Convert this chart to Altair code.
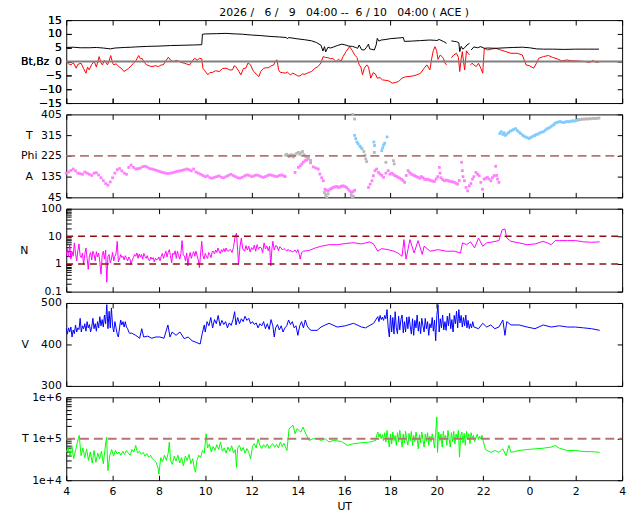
import altair as alt
import pandas as pd

FONT = "DejaVu Sans"
FS = 11
W, H = 563, 84
NB = "\u00a0"

# ---------------- data (hours since 00 UT on 6/9; 24+ = 6/10) ----------------
bt_h = [4.0, 4.3, 4.6, 5.0, 5.3, 5.6, 5.9, 6.1, 6.5, 6.8, 7.0, 7.5, 8.0, 8.5, 9.0, 9.5, 9.85,
        9.88, 10.0, 10.5, 10.9, 11.3, 11.6, 12.0, 12.4, 12.8, 13.2, 13.5, 13.55, 13.6, 14.0,
        14.3, 14.6, 14.8, 15.0, 15.08, 15.15, 15.2, 15.3, 15.4, 15.55, 15.7, 15.9, 16.05, 16.2,
        16.35, 16.5, 16.58, 16.65, 16.75, 16.87, 16.95, 17.05, 17.1, 17.3, 17.38, 17.43, 17.5,
        17.6, 17.8, 18.0, 18.3, 18.55, 18.6, 18.9, 19.3, 19.7, 19.9, 20.0, 20.1, 20.3, 20.42,
        20.5,
        20.63, 20.75, 20.85, 20.95, 20.99, 21.05, 21.12, 21.2, 21.3, 21.41,
        21.44,
        21.48, 21.6, 21.75, 21.9, 22.05, 22.2, 22.55, 23.0, 23.3, 23.7, 24.0, 24.3, 24.6, 25.0,
        25.5, 26.0, 26.5, 27.0]
bt_v = [5.1, 5.2, 5.0, 5.0, 5.1, 4.9, 4.6, 4.9, 5.1, 5.2, 5.3, 5.5, 5.6, 5.8, 5.9, 6.0, 6.1,
        9.9, 10.0, 10.1, 10.2, 10.0, 9.9, 9.6, 9.4, 9.1, 8.9, 8.7, 8.2, 8.7, 8.2,
        7.9, 7.5, 6.9, 5.9, 3.8, 5.4, 3.5, 5.2, 4.9, 5.3, 5.8, 6.3, 6.0, 5.6,
        5.5, 5.1, 4.8, 6.0, 4.3, 4.2, 5.0, 6.3, 4.6, 4.2, 6.0, 8.4, 7.4,
        7.8, 8.0, 8.3, 8.5, 8.7, 7.3, 7.4, 7.6, 7.8, 7.7, 7.6, 8.0, 7.2, 6.6,
        None,
        7.5, 7.3, 7.2, 6.8, 3.6, 5.5, 4.5, 5.0, 6.0, 6.6,
        None,
        4.2, 5.3, 5.0, 5.4, 4.8, 4.9, 4.8, 5.0, 5.1, 5.2, 5.0, 4.6, 4.5, 4.5,
        4.4, 4.5, 4.5, 4.5]

bz_h = [4.0, 4.1, 4.21, 4.3, 4.43, 4.5, 4.64, 4.75, 4.85, 4.92, 4.99, 5.1, 5.21, 5.3, 5.42,
        5.5, 5.56, 5.65, 5.78, 5.85, 5.92, 6.0, 6.06, 6.15, 6.27, 6.4, 6.49, 6.6, 6.7, 6.8,
        6.91, 7.0, 7.13, 7.2, 7.27, 7.38, 7.48, 7.6, 7.7, 7.85, 7.98, 8.1, 8.19, 8.3, 8.41,
        8.5, 8.62, 8.75, 8.9, 9.0, 9.12, 9.2, 9.33, 9.45, 9.54, 9.65, 9.76, 9.85, 9.9, 10.0,
        10.11, 10.2, 10.32, 10.45, 10.61, 10.75, 10.9, 11.05, 11.18, 11.25, 11.32, 11.45,
        11.54, 11.65, 11.75, 11.85, 11.96, 12.05, 12.1, 12.2, 12.32, 12.4, 12.53, 12.65,
        12.74, 12.85, 12.96, 13.03, 13.1, 13.17, 13.24, 13.35, 13.45, 13.55, 13.67, 13.78,
        13.88, 14.0, 14.09, 14.2, 14.31, 14.45, 14.59, 14.73, 14.87, 15.0, 15.09, 15.2, 15.3,
        15.42, 15.51, 15.6, 15.65, 15.75, 15.87, 15.95, 16.08, 16.23, 16.35, 16.45, 16.55,
        16.65, 16.72, 16.79, 16.87, 16.98, 17.05, 17.15, 17.25, 17.35, 17.43, 17.55, 17.65,
        17.8, 17.93, 18.07, 18.2, 18.35, 18.5, 18.65, 18.8, 18.97, 19.14, 19.3, 19.45, 19.57,
        19.7, 19.78, 19.85, 19.92, 19.99, 20.05, 20.15, 20.28, 20.35, 20.42,
        20.5,
        20.63, 20.73, 20.85, 20.93, 20.99, 21.05, 21.1, 21.2, 21.28, 21.35, 21.41,
        21.43,
        21.45, 21.52, 21.6, 21.7, 21.8, 21.9, 21.98, 22.05, 22.2, 22.35, 22.55, 22.75, 22.98,
        23.2, 23.47, 23.69, 23.85, 24.0, 24.18, 24.3, 24.4, 24.6, 24.82, 25.0, 25.2, 25.4,
        25.6, 25.8, 26.1, 26.4, 26.6, 26.75, 26.85, 27.0]
bz_v = [0.0, -0.8, -1.2, -0.3, -2.4, -1.0, -0.6, -2.5, -4.2, -2.0, -3.0, -1.0, 0.0, -2.0, 1.8,
        -0.5, -1.2, 0.5, -1.2, 0.3, 2.2, -0.5, -1.2, -0.8, -1.8, -2.6, -3.6, -3.0, -2.4, -1.5,
        -0.6, 0.2, 2.2, 1.0, 1.2, -0.5, -1.2, -1.6, -1.8, -1.5, -1.8, -1.2, -1.2, 0.3, 1.6,
        0.5, 0.0, 0.4, 0.0, -0.4, -0.6, -0.9, -1.2, 0.3, 1.2, 0.5, 1.2, 1.0, -2.4, -3.5,
        -4.8, -4.0, -3.9, -3.3, -3.6, -2.5, -2.4, -3.0, -3.0, -1.5, -1.8, -3.5,
        -4.8, -2.5, -2.4, -0.5, -1.2, -3.0, -3.6, -4.5, -5.4, -3.5, -2.4, -2.2,
        -2.2, -1.5, -1.2, 0.2, 0.6, -3.0, -3.9, -4.0, -4.2, -3.8, -4.8, -4.2,
        -4.6, -5.2, -5.2, -4.5, -4.6, -4.0, -3.6, -2.5, -1.8, -0.5, 1.8, 1.5, 1.4,
        1.0, 1.2, 0.3, 0.0, 0.8, 0.2, 1.8, 3.6, 5.4, 4.0, 2.4, 1.5,
        -1.2, -2.0, -4.8, -2.4, -1.2, -2.0, -6.0, -4.0, -4.5, -6.0, -5.8, -6.6,
        -6.8, -7.0, -7.8, -7.6, -7.2, -6.0, -5.5, -5.4, -5.2, -4.8, -4.2, -2.4, -1.2,
        -3.0, 1.2, 4.0, 5.4, 4.0, 0.8, 2.4, 1.2, -0.5, -1.2,
        None,
        1.4, 2.4, 3.0, 1.5, -3.6, 1.0, 3.6, -3.0, 3.9, 3.0, 2.4,
        None,
        -1.2, -0.6, -1.2, -1.8, -0.6, -2.4, -4.2, 4.8, 4.2, 4.5, 4.8, 4.2, 3.6,
        3.0, 3.0, 2.4, -1.2, -1.5, -2.4, -0.6, 1.2, 1.8, 2.2, 1.5, 1.0, 0.2,
        0.6, 0.3, 0.2, 0.0, -0.3, 0.4, -0.2, -0.2]

phi_a_h = [4.0, 4.1, 4.2, 4.3, 4.4, 4.5, 4.6, 4.7, 4.8, 4.9, 5.0, 5.1, 5.2, 5.3, 5.4, 5.5,
           5.6, 5.7, 5.8, 5.9, 6.0, 6.1, 6.2, 6.3, 6.4, 6.5, 6.6, 6.7, 6.8, 6.9, 7.0, 7.1,
           7.2, 7.3, 7.4, 7.5, 7.6, 7.7, 7.8, 7.9, 8.0, 8.1, 8.2, 8.3, 8.4, 8.5, 8.6, 8.7,
           8.8, 8.9, 9.0, 9.1, 9.2, 9.3, 9.4, 9.5, 9.6, 9.7, 9.8, 9.9, 10.0, 10.1, 10.2,
           10.3, 10.4, 10.5, 10.6, 10.7, 10.8, 10.9, 11.0, 11.1, 11.2, 11.3, 11.4, 11.5,
           11.6, 11.7, 11.8, 11.9, 12.0, 12.1, 12.2, 12.3, 12.4, 12.5, 12.6, 12.7, 12.8,
           12.9, 13.0, 13.1, 13.2, 13.3, 13.4, 13.45,
           13.88, 14.02, 14.1, 14.17, 14.24, 14.31, 14.38, 14.45, 14.55, 14.67, 14.78, 14.88,
           14.95, 15.03, 15.1, 15.17, 15.24, 15.31, 15.38, 15.45, 15.52, 15.6, 15.67, 15.74,
           15.81, 15.88, 15.95, 16.02, 16.1, 16.17, 16.24, 16.31, 16.38, 16.45,
           17.05, 17.12, 17.2, 17.26, 17.33, 17.4, 17.48, 17.55, 17.62, 17.7, 17.8, 17.9,
           17.98, 18.05, 18.12, 18.19, 18.26, 18.33, 18.4, 18.47, 18.54, 18.61, 18.68, 18.76,
           18.83, 18.9, 18.97, 19.04, 19.12, 19.19, 19.26, 19.33, 19.4, 19.47, 19.54, 19.61,
           19.68, 19.76, 19.83, 19.9, 19.97, 20.04, 20.11, 20.14, 20.18, 20.25, 20.33, 20.4,
           20.47, 20.54, 20.61, 20.68, 20.76, 20.83, 20.9, 20.97, 21.07, 21.1, 21.13, 21.19,
           21.26, 21.33, 21.4, 21.47, 21.54, 21.6, 21.69, 21.76, 21.83, 21.9, 21.97, 22.04,
           22.11, 22.18, 22.25, 22.33, 22.4, 22.47, 22.54, 22.58, 22.62, 22.68]
phi_a_v = [150, 155, 162, 168, 160, 150, 148, 145, 155, 150, 145, 140, 150, 152, 142, 130,
           118, 105, 98, 112, 130, 150, 165, 170, 160, 150, 145, 175, 185, 175, 168, 170,
           172, 178, 180, 176, 170, 168, 165, 162, 158, 155, 152, 150, 148, 150, 152, 155,
           158, 160, 162, 165, 168, 165, 160, 168, 155, 150, 145, 140, 135, 138, 130,
           128, 132, 135, 138, 132, 130, 135, 140, 145, 140, 135, 130, 128,
           132, 138, 142, 140, 135, 138, 142, 140, 135, 132, 135, 140, 143,
           140, 137, 135, 140, 142, 138, 135,
           153, 175, 182, 190, 198, 204, 208, 212, 195, 177, 172, 168,
           146, 130, 117, 80, 76, 73, 80, 83, 88, 90, 92, 88,
           90, 93, 95, 92, 88, 80, 72, 66, 70, 76,
           88, 102, 117, 139, 161, 168, 153, 146, 140, 132, 150, 161,
           146, 150, 145, 139, 136, 132, 128, 124, 118, 110, 140, 161,
           152, 146, 142, 139, 135, 132, 128, 135, 130, 124, 122, 124,
           120, 117, 115, 114, 125, 135, 175, 150, 130, 122, 117, 120,
           118, 115, 114, 112, 110, 106, 102, 118, 197, 161, 135, 117,
           88, 73, 95, 105, 124, 135, 153, 145, 139, 110, 80, 124,
           128, 132, 125, 117, 130, 139, 180, 140, 124, 110]

phi_t_h = [16.45, 16.5, 16.55, 16.6, 16.67, 16.72, 16.77, 17.28, 17.31, 17.62, 17.66, 17.7,
           17.75, 17.85, 22.72, 22.78, 22.85, 22.9, 22.96, 23.02, 23.1, 23.17, 23.25, 23.32,
           23.4, 23.47, 23.55, 23.62, 23.7, 23.77, 23.85, 23.92, 24.0, 24.07, 24.15, 24.22,
           24.3, 24.38, 24.45, 24.53, 24.6, 24.68, 24.75, 24.82, 24.9, 24.97, 25.05, 25.1,
           25.18, 25.25, 25.33, 25.4, 25.48, 25.55, 25.63, 25.7, 25.78, 25.85, 25.93, 26.0,
           26.08]
phi_t_v = [314, 300, 285, 278, 268, 262, 256, 285, 270, 248, 260, 272,
           280, 307, 322, 330, 318, 325, 314, 320, 326, 332, 336, 340,
           343, 335, 328, 322, 315, 310, 306, 303, 301, 306, 310, 313,
           318, 320, 325, 328, 330, 336, 342, 345, 350, 355, 360, 366,
           370, 372, 374, 371, 370, 372, 374, 373, 375, 377, 376, 378,
           380]

phi_g_h = [13.47, 13.52, 13.58, 13.63, 13.7, 13.75, 13.8, 13.85, 13.95, 14.02, 14.08, 14.14,
           14.2, 14.27, 14.35, 14.45, 14.55, 15.15, 15.2, 15.25, 15.3, 16.3, 16.35, 16.4,
           16.37, 16.45, 16.85, 16.9, 16.93, 16.97, 17.3, 17.8, 18.13, 18.16, 26.12, 26.2,
           26.28, 26.36, 26.44, 26.52, 26.6, 26.68, 26.76, 26.84, 26.92, 27.0]
phi_g_v = [228, 232, 226, 222, 230, 228, 220, 229, 236, 240, 232, 238,
           244, 230, 222, 215, 205, 66, 55, 45, 60, 54, 45, 50,
           405, 385, 244, 228, 212, 200, 240, 197, 204, 190, 383, 382,
           385, 384, 386, 385, 387, 386, 388, 387, 388, 389]

# proton density, in pieces
na_h = [4.0, 4.05, 4.1, 4.15, 4.2, 4.25, 4.3, 4.35, 4.4, 4.45,
        4.5, 4.55, 4.6, 4.65, 4.7, 4.75, 4.8, 4.85, 4.9, 4.95,
        5.0, 5.05, 5.1, 5.15, 5.2, 5.25, 5.3, 5.35, 5.4, 5.45,
        5.5, 5.55, 5.6, 5.65, 5.7, 5.75, 5.8, 5.85, 5.9, 5.95,
        6.0, 6.05, 6.1, 6.15, 6.2, 6.25, 6.3, 6.35, 6.4, 6.45,
        6.5, 6.55, 6.6, 6.65, 6.7, 6.75, 6.8, 6.85, 6.9, 6.95,
        7.0, 7.05, 7.1, 7.15, 7.2, 7.25, 7.3, 7.35, 7.4, 7.45,
        7.5, 7.55, 7.6, 7.65, 7.7, 7.75, 7.8, 7.85, 7.9, 7.95,
        8.0, 8.05, 8.1, 8.15, 8.2, 8.25, 8.3, 8.35, 8.4, 8.45,
        8.5, 8.55, 8.6, 8.65, 8.7, 8.75, 8.8, 8.85, 8.9, 8.95,
        9.0, 9.05, 9.1, 9.15, 9.2, 9.25, 9.3, 9.35, 9.4, 9.45,
        9.5, 9.55, 9.6, 9.65, 9.7, 9.75, 9.8, 9.85, 9.9, 9.95,
        10.0, 10.05, 10.1, 10.15, 10.2, 10.25, 10.3, 10.35, 10.4, 10.45,
        10.5, 10.55, 10.6, 10.65, 10.7, 10.75, 10.8, 10.85, 10.9, 10.95,
        11.0]
na_v = [2.2, 3.5, 1.8, 5.0, 1.5, 2.8, 1.9, 5.8, 2.4, 1.3,
        3.0, 5.3, 2.0, 1.7, 2.5, 0.97, 2.2, 3.8, 1.6, 0.64,
        2.0, 2.6, 1.4, 2.9, 2.2, 1.3, 2.8, 1.8, 2.5, 1.2,
        0.43, 2.0, 2.9, 1.5, 3.2, 0.22, 1.9, 2.2, 1.1, 1.5,
        2.6, 1.3, 1.9, 2.4, 6.6, 1.2, 1.5, 2.2, 1.7, 1.9,
        1.4, 2.0, 1.6, 1.3, 1.8, 1.5, 0.97, 1.4, 1.7, 2.2,
        1.9, 2.5, 1.6, 2.3, 1.8, 2.2, 1.5, 2.4, 1.9, 1.6,
        2.0, 1.4, 1.3, 1.8, 1.5, 1.7, 1.2, 1.6, 1.4, 1.5,
        1.8, 1.3, 1.9, 2.4, 1.6, 2.2, 2.9, 1.8, 2.6, 3.3,
        2.0, 1.1, 2.5, 2.2, 3.0, 1.6, 2.9, 2.0, 1.5, 2.4,
        7.0, 2.2, 1.9, 1.3, 2.5, 0.85, 1.8, 2.6, 1.6, 2.2,
        2.8, 1.9, 2.9, 2.0, 1.4, 0.74, 2.3, 6.6, 2.0, 1.5,
        2.4, 1.9, 1.6, 2.6, 2.2, 1.7, 2.8, 2.9, 2.3, 3.2,
        2.6, 3.8, 2.9, 2.4, 3.3, 2.7, 3.6, 2.8, 3.8, 3.0,
        2.9]
nb_h = [11.08, 11.16, 11.22, 11.28, 11.35, 11.4, 11.44, 11.5, 11.56, 11.62,
        11.7, 11.76, 11.82, 11.88, 11.94, 12.0, 12.06, 12.12, 12.18, 12.24,
        12.3, 12.36, 12.42, 12.48, 12.54, 12.6, 12.66, 12.72, 12.78, 12.83,
        12.88, 12.92, 12.98, 13.04, 13.1, 13.16, 13.22, 13.28, 13.34, 13.4,
        13.46, 13.52, 13.58, 13.64, 13.7, 13.76, 13.82, 13.88, 13.94, 14.0,
        14.06, 14.1, 14.16, 14.23]
nb_v = [3.4, 2.6, 4.0, 8.7, 13.2, 3.0, 0.97, 4.2, 8.7, 3.5,
        2.9, 4.6, 3.2, 4.4, 2.7, 3.9, 3.3, 4.8, 2.9, 5.0,
        3.4, 4.1, 3.8, 2.6, 5.8, 3.5, 4.5, 3.0, 4.4, 0.85,
        3.6, 6.6, 3.2, 4.6, 4.4, 3.0, 4.2, 3.8, 3.2, 3.6,
        3.3, 2.9, 3.4, 2.9, 3.1, 2.7, 2.9, 3.2, 2.6, 3.3,
        2.2, 1.5, 2.6, 2.9]
nc_h = [14.49, 14.75, 15.01, 15.36, 15.71, 16.06, 16.4, 16.75, 17.1, 17.27,
        17.45, 17.62, 17.89, 18.15, 18.32, 18.5, 18.58, 18.67, 18.84, 19.02,
        19.19, 19.37, 19.45, 19.71, 20.06, 20.41, 20.76, 21.02, 21.11, 21.28,
        21.46, 21.63, 21.8, 21.98, 22.15, 22.33, 22.68, 22.82, 22.94, 23.02,
        23.2, 23.55, 23.9, 24.24, 24.59, 24.77, 24.94, 25.11, 25.29, 25.64,
        25.99, 26.34, 26.68, 27.03]
nc_v = [3.1, 3.8, 4.4, 5.0, 5.0, 5.5, 5.9, 5.3, 6.3, 5.3,
        2.9, 3.6, 3.3, 2.9, 2.5, 1.9, 7.6, 1.5, 7.6, 2.5,
        7.0, 2.2, 4.4, 2.9, 3.3, 2.9, 2.9, 2.5, 5.8, 5.0,
        6.3, 3.8, 8.7, 4.4, 5.8, 6.1, 7.0, 17.3, 18.5, 8.7,
        6.6, 5.8, 5.0, 5.3, 6.6, 5.8, 5.0, 7.0, 7.0, 7.0,
        7.0, 6.3, 6.1, 6.3]

# solar wind speed, in pieces
va_h = [4.0, 4.05, 4.1, 4.15, 4.2, 4.25, 4.3, 4.35, 4.4, 4.45,
        4.5, 4.55, 4.6, 4.65, 4.7, 4.75, 4.8, 4.85, 4.9, 4.95,
        5.0, 5.05, 5.1, 5.15, 5.2, 5.25, 5.3, 5.35, 5.4, 5.45,
        5.5, 5.55, 5.6, 5.65, 5.7, 5.75, 5.8, 5.85, 5.9, 5.95,
        6.0, 6.05, 6.1, 6.15, 6.2, 6.25, 6.3, 6.35, 6.4, 6.45,
        6.5, 6.55, 6.6, 6.65, 6.7, 6.75, 6.8]
va_v = [438, 425, 440, 430, 442, 418, 435, 426, 447, 430,
        440, 436, 463, 430, 445, 438, 450, 432, 455, 440,
        448, 430, 442, 463, 438, 450, 432, 455, 440, 467,
        445, 460, 442, 471, 450, 496, 438, 480, 440, 488,
        445, 430, 455, 440, 425, 418, 440, 459, 447, 455,
        442, 455, 442, 438, 430, 426, 428]
vb_h = [7.0, 7.17, 7.26, 7.34, 7.52, 7.69, 7.87, 8.04, 8.22, 8.39,
        8.48, 8.57, 8.74, 8.91, 9.09, 9.26, 9.43, 9.61, 9.78, 9.87,
        9.96]
vb_v = [422, 415, 438, 418, 420, 415, 418, 418, 415, 447,
        418, 430, 422, 430, 414, 418, 409, 405, 401, 426,
        447]
vc_h = [10.0, 10.08, 10.16, 10.24, 10.32, 10.4, 10.48, 10.56, 10.64, 10.72,
        10.8, 10.88, 10.96, 11.04, 11.12, 11.2, 11.27, 11.33, 11.4, 11.48,
        11.56, 11.64, 11.72, 11.8, 11.88, 11.96, 12.04, 12.12, 12.2, 12.28,
        12.36, 12.44, 12.52, 12.6, 12.68, 12.76, 12.84, 12.92, 12.98, 13.04,
        13.12, 13.2, 13.28, 13.36, 13.44, 13.52, 13.6, 13.68, 13.76, 13.84,
        13.92, 14.0, 14.08, 14.16, 14.24, 14.32, 14.4, 14.48, 14.57]
vc_v = [430, 455, 445, 465, 440, 460, 450, 470, 445, 458,
        448, 455, 440, 452, 446, 460, 479, 447, 465, 450,
        462, 455, 468, 458, 463, 450, 455, 448, 452, 440,
        450, 445, 455, 438, 450, 436, 460, 445, 418, 440,
        448, 435, 445, 430, 440, 445, 459, 448, 455, 440,
        445, 422, 445, 455, 440, 459, 445, 438, 434]
vd_h = [14.83, 15.0, 15.18, 15.35, 15.7, 16.05, 16.4, 16.75, 16.92, 17.27]
vd_v = [434, 442, 447, 451, 442, 445, 451, 442, 440, 451]
ve_h = [17.45, 17.5, 17.55, 17.6, 17.65, 17.7, 17.75, 17.8, 17.85, 17.9,
        17.95, 18.0, 18.05, 18.1, 18.15, 18.2, 18.25, 18.3, 18.35, 18.4,
        18.45, 18.5, 18.55, 18.6, 18.65, 18.7, 18.75, 18.8, 18.85, 18.9,
        18.95, 19.0, 19.05, 19.1, 19.15, 19.2, 19.25, 19.3, 19.35, 19.4,
        19.45, 19.5, 19.55, 19.6, 19.65, 19.7, 19.75, 19.8, 19.85, 19.9,
        19.95, 20.0, 20.05, 20.1, 20.15, 20.2, 20.25, 20.3, 20.35, 20.4,
        20.45, 20.5, 20.55, 20.6, 20.65, 20.7, 20.75, 20.8, 20.85, 20.9,
        20.95, 21.0, 21.05, 21.1, 21.15, 21.2, 21.25, 21.3, 21.35, 21.4,
        21.45, 21.5, 21.55, 21.6]
ve_v = [467, 455, 470, 460, 466, 458, 470, 462, 484, 440,
        418, 471, 430, 465, 425, 479, 440, 426, 468, 435,
        460, 471, 428, 455, 430, 466, 438, 467, 445, 425,
        462, 422, 458, 440, 471, 432, 455, 426, 463, 445,
        430, 463, 438, 455, 422, 450, 440, 465, 432, 459,
        409, 470, 496, 430, 462, 440, 471, 435, 455, 434,
        468, 445, 475, 438, 460, 430, 470, 450, 480, 440,
        484, 452, 470, 442, 465, 445, 471, 440, 458, 438,
        450, 440, 455, 442]
vf_h = [21.8, 21.98, 22.15, 22.33, 22.5, 22.68, 22.85, 22.94, 23.02, 23.2,
        23.55, 23.9, 24.24, 24.59, 24.94, 25.29, 25.64, 25.99, 26.34, 26.68,
        27.03]
vf_v = [438, 451, 442, 447, 438, 442, 459, 422, 455, 447,
        447, 442, 438, 447, 442, 445, 442, 442, 440, 438,
        434]

# proton temperature, in pieces
ta_h = [4.0, 4.08, 4.16, 4.24, 4.32, 4.4, 4.48, 4.56, 4.64, 4.72,
        4.8, 4.88, 4.96, 5.04, 5.12, 5.2, 5.28, 5.36, 5.44, 5.52,
        5.6, 5.68, 5.74, 5.8, 5.88, 5.96, 6.04, 6.12, 6.2, 6.28,
        6.36, 6.44, 6.52, 6.6, 6.68, 6.76, 6.84, 6.92, 7.0, 7.08,
        7.16, 7.24, 7.32, 7.4, 7.48, 7.56, 7.64, 7.72, 7.8, 7.88,
        7.96, 8.0, 8.08, 8.16, 8.24, 8.32, 8.4, 8.45, 8.5, 8.58,
        8.66, 8.74, 8.82, 8.9, 8.98, 9.06, 9.14, 9.22, 9.3, 9.38,
        9.46, 9.54, 9.58, 9.64, 9.72, 9.8, 9.88, 9.96, 10.04, 10.1,
        10.18, 10.26, 10.34, 10.42, 10.5, 10.58, 10.66, 10.74, 10.82, 10.9,
        10.98, 11.06, 11.14, 11.22, 11.3, 11.35, 11.4, 11.48, 11.56, 11.64,
        11.72, 11.8, 11.88, 11.96, 12.04, 12.12, 12.2, 12.28, 12.36, 12.44,
        12.52, 12.6, 12.68, 12.76, 12.84, 12.92, 13.0, 13.08, 13.16, 13.24,
        13.32, 13.4, 13.48, 13.53]
ta_v = [47000, 62000, 38000, 69000, 33000, 52000, 83000, 121000, 39000, 60000,
        35000, 57000, 30000, 48000, 26000, 52000, 27000, 45000, 33000, 50000,
        25000, 60000, 110000, 17000, 40000, 55000, 38000, 52000, 43000, 48000,
        40000, 50000, 42000, 52000, 45000, 40000, 55000, 48000, 69000, 45000,
        50000, 42000, 47000, 38000, 44000, 36000, 40000, 33000, 30000, 27000,
        20000, 14000, 35000, 28000, 40000, 30000, 45000, 83000, 30000, 24000,
        38000, 29000, 40000, 26000, 35000, 22000, 38000, 30000, 42000, 25000,
        33000, 18000, 15500, 30000, 40000, 35000, 52000, 45000, 132000, 60000,
        75000, 48000, 65000, 52000, 72000, 55000, 83000, 50000, 60000, 45000,
        63000, 50000, 68000, 45000, 55000, 20500, 60000, 69000, 50000, 62000,
        45000, 58000, 47000, 33000, 65000, 76000, 60000, 100000, 69000, 58000,
        72000, 62000, 75000, 58000, 70000, 76000, 62000, 72000, 60000, 83000,
        65000, 78000, 60000, 52000]
tb_h = [13.62, 13.79, 13.88, 13.96, 14.13, 14.22, 14.31, 14.48, 14.66, 14.83,
        15.0, 15.18, 15.35, 15.53, 15.88, 16.14, 16.4, 16.75, 17.1,
        17.36, 17.4, 17.45, 17.5, 17.55, 17.6, 17.65, 17.7, 17.75, 17.8,
        17.85, 17.9, 17.95, 18.0, 18.05, 18.1, 18.15, 18.2, 18.25, 18.3,
        18.35, 18.4, 18.45, 18.5, 18.55, 18.6, 18.65, 18.7, 18.75, 18.8,
        18.85, 18.9, 18.95, 19.0, 19.05, 19.1, 19.15, 19.2, 19.25, 19.3,
        19.35, 19.4, 19.45, 19.5, 19.55, 19.6, 19.65, 19.7, 19.75, 19.8,
        19.85, 19.9, 19.95, 20.0, 20.03, 20.08, 20.13, 20.18, 20.23, 20.28,
        20.33, 20.38, 20.43, 20.48, 20.53, 20.58, 20.63, 20.68, 20.73, 20.78,
        20.83, 20.88, 20.93, 20.98, 21.03, 21.08, 21.13, 21.18, 21.23, 21.28,
        21.33, 21.38, 21.43, 21.48, 21.53, 21.58, 21.63, 21.7, 21.75, 21.8,
        21.85, 21.9, 21.95, 22.0, 22.05, 22.1]
tb_v = [175000, 211000, 132000, 175000, 145000, 192000, 145000, 91000, 100000, 100000,
        91000, 100000, 83000, 91000, 86000, 69000, 76000, 80000, 83000,
        91000, 120000, 145000, 110000, 132000, 100000, 125000, 90000, 140000, 83000,
        159000, 95000, 63000, 130000, 75000, 145000, 90000, 120000, 69000, 140000,
        85000, 159000, 100000, 63000, 130000, 80000, 151000, 95000, 70000, 135000,
        90000, 150000, 69000, 120000, 85000, 145000, 100000, 57000, 125000, 80000,
        145000, 95000, 63000, 130000, 88000, 140000, 70000, 115000, 85000, 132000,
        95000, 60000, 140000, 336000, 47000, 145000, 90000, 130000, 63000, 151000,
        95000, 120000, 70000, 159000, 100000, 63000, 140000, 85000, 150000, 75000,
        130000, 100000, 159000, 36000, 120000, 145000, 80000, 135000, 69000, 150000,
        95000, 132000, 76000, 140000, 100000, 121000, 85000, 110000, 130000, 95000,
        115000, 100000, 121000, 90000, 70000, 55000]
tc_h = [22.33, 22.5, 22.68, 22.85, 22.99, 23.11, 23.2, 23.55, 23.9, 24.24,
        24.59, 24.94, 25.11, 25.29, 25.64, 25.99, 26.34, 26.68, 27.03]
tc_v = [47000, 52000, 47000, 57000, 39000, 69000, 47000, 52000, 55000, 57000,
        59000, 63000, 69000, 59000, 52000, 52000, 49000, 49000, 47000]

x_ticks = [4, 6, 8, 10, 12, 14, 16, 18, 20, 22, 24, 26, 28]
ref_h = [4, 28]
bz_ticks = [-15, -10, -5, 0, 5, 10, 15]
phi_ticks = [45, 135, 225, 315, 405]
n_minor = [0.1, 0.2, 0.3, 0.4, 0.5, 0.6, 0.7, 0.8, 0.9, 1, 2, 3, 4, 5, 6, 7, 8, 9,
           10, 20, 30, 40, 50, 60, 70, 80, 90, 100]
t_minor = [10000, 20000, 30000, 40000, 50000, 60000, 70000, 80000, 90000, 100000, 200000,
           300000, 400000, 500000, 600000, 700000, 800000, 900000, 1000000]

title_text = ("2026" + NB + "/" + NB * 3 + "6" + NB + "/" + NB * 3 + "9" + NB * 3 + "04:00"
              + NB + "--" + NB * 2 + "6" + NB + "/" + NB + "10" + NB * 3 + "04:00" + NB
              + "(" + NB + "ACE" + NB + ")")

n_h = na_h + nb_h + nc_h
n_v = na_v + nb_v + nc_v
v_h = va_h + vb_h + vc_h + vd_h + ve_h + vf_h
v_v = va_v + vb_v + vc_v + vd_v + ve_v + vf_v
t_h = ta_h + tb_h + tc_h
t_v = ta_v + tb_v + tc_v


def seg_frame(h, v):
    rows, seg = [], 0
    for t, y in zip(h, v):
        if y is None:
            seg += 1
            continue
        rows.append({"h": t, "v": y, "seg": seg})
    return pd.DataFrame(rows)


xs = alt.Scale(domain=[4, 28], nice=False, zero=False)


def xaxis(orient, labels=False):
    kw = dict(orient=orient, values=x_ticks, offset=-5, tickSize=5, tickColor="black",
              domain=False, grid=False, labels=labels)
    if labels:
        kw.update(labelExpr="datum.value % 24", labelFlush=False, labelOverlap=False,
                  labelFont=FONT, labelFontSize=FS, labelColor="black", labelPadding=5,
                  title="UT", titleFont=FONT, titleFontSize=FS, titleFontWeight="normal",
                  titleColor="black", titlePadding=5)
    else:
        kw.update(title=None)
    return alt.Axis(**kw)


def yleft(values, title, title_x, title_y, label_expr=None, line_height=None):
    kw = dict(orient="left", values=values, offset=-5, tickSize=5, tickColor="black",
              domain=False, grid=False, labelFont=FONT, labelFontSize=FS, labelColor="black",
              labelPadding=5, labelFlush=False, labelOverlap=False,
              title=title, titleAngle=0, titleAlign="center", titleBaseline="middle",
              titleX=title_x, titleY=title_y, titleFont=FONT, titleFontSize=FS,
              titleFontWeight="normal", titleColor="black")
    if label_expr:
        kw["labelExpr"] = label_expr
    if line_height:
        kw["titleLineHeight"] = line_height
    return alt.Axis(**kw)


def yright(values):
    return alt.Axis(orient="right", values=values, offset=-5, tickSize=5, tickColor="black",
                    domain=False, grid=False, labels=False, title=None)


def ref_layer(df, ys, rvals, color, width, dash=None, opacity=1.0):
    kw = dict(color=color, strokeWidth=width, opacity=opacity)
    if dash:
        kw["strokeDash"] = dash
    return alt.Chart(df).mark_line(**kw).encode(
        x=alt.X("h:Q", scale=xs, axis=xaxis("top")),
        y=alt.Y("v:Q", scale=ys, axis=yright(rvals)),
        detail="lvl:N",
    )


# ---- panel 1: Bt, Bz
ys1 = alt.Scale(domain=[-15, 15], nice=False, zero=False)
ax1 = yleft(bz_ticks, "Bt,Bz", -37, H / 2)
bz = alt.Chart(seg_frame(bz_h, bz_v)).mark_line(color="#ff0000", strokeWidth=1).encode(
    x=alt.X("h:Q", scale=xs, axis=xaxis("bottom")),
    y=alt.Y("v:Q", scale=ys1, axis=ax1),
    detail="seg:N",
)
bt = alt.Chart(seg_frame(bt_h, bt_v)).mark_line(color="black", strokeWidth=1).encode(
    x=alt.X("h:Q", scale=xs, axis=xaxis("bottom")),
    y=alt.Y("v:Q", scale=ys1, axis=ax1),
    detail="seg:N",
)
ref1 = ref_layer(pd.DataFrame({"h": ref_h, "v": [0, 0], "lvl": [0, 0]}), ys1,
                 bz_ticks, "#808080", 2)
p1 = alt.layer(bz, bt, ref1).properties(
    width=W, height=H,
    title=alt.TitleParams(title_text, anchor="middle", frame="group", font=FONT, fontSize=FS,
                          fontWeight="normal", color="black", offset=-4))

# ---- panel 2: Phi
ys2 = alt.Scale(domain=[45, 405], nice=False, zero=False)
phi_df = pd.concat([
    pd.DataFrame({"h": phi_a_h, "v": phi_a_v, "k": "A"}),
    pd.DataFrame({"h": phi_g_h, "v": phi_g_v, "k": "G"}),
    pd.DataFrame({"h": phi_t_h, "v": phi_t_v, "k": "T"}),
])
phi = alt.Chart(phi_df).mark_square(size=8, opacity=1).encode(
    x=alt.X("h:Q", scale=xs, axis=xaxis("bottom")),
    y=alt.Y("v:Q", scale=ys2, axis=yleft(phi_ticks, ["T", "Phi", "A"], -43, H / 2 - 20.5,
                                         line_height=20.5)),
    color=alt.Color("k:N", scale=alt.Scale(domain=["A", "G", "T"],
                                           range=["#ff80ff", "#b8b8b8", "#80ccff"]), legend=None),
)
ref2 = ref_layer(pd.DataFrame({"h": ref_h, "v": [225, 225], "lvl": [0, 0]}), ys2,
                 phi_ticks, "#b87474", 2, [9, 5])
p2 = alt.layer(phi, ref2).properties(width=W, height=H)

# ---- panel 3: N
ys3 = alt.Scale(type="log", domain=[0.1, 100], nice=False)
n_line = alt.Chart(pd.DataFrame({"h": n_h, "v": n_v})).mark_line(color="#ff00ff", strokeWidth=1).encode(
    x=alt.X("h:Q", scale=xs, axis=xaxis("bottom")),
    y=alt.Y("v:Q", scale=ys3, axis=yleft(
        n_minor, "N", -48, H / 2,
        label_expr="datum.value == 0.1 ? '0.1' : datum.value == 1 ? '1' : datum.value == 10 ? '10' : datum.value == 100 ? '100' : ''")),
)
ref3 = ref_layer(pd.DataFrame({"h": ref_h + ref_h, "v": [1, 1, 10, 10], "lvl": [0, 0, 1, 1]}),
                 ys3, [0.1, 1, 10, 100], "#8b1010", 1.5, [7, 5])
p3 = alt.layer(n_line, ref3).properties(width=W, height=H)

# ---- panel 4: V
ys4 = alt.Scale(domain=[300, 500], nice=False, zero=False)
v_line = alt.Chart(pd.DataFrame({"h": v_h, "v": v_v})).mark_line(color="#0000ff", strokeWidth=1).encode(
    x=alt.X("h:Q", scale=xs, axis=xaxis("bottom")),
    y=alt.Y("v:Q", scale=ys4, axis=yleft([300, 400, 500], "V", -47, H / 2)),
)
ref4 = ref_layer(pd.DataFrame({"h": ref_h, "v": [400, 400], "lvl": [0, 0]}), ys4,
                 [300, 400, 500], "white", 1, opacity=0.0)
p4 = alt.layer(v_line, ref4).properties(width=W, height=H)

# ---- panel 5: T
ys5 = alt.Scale(type="log", domain=[10000, 1000000], nice=False)
t_line = alt.Chart(pd.DataFrame({"h": t_h, "v": t_v})).mark_line(color="#00ff00", strokeWidth=1).encode(
    x=alt.X("h:Q", scale=xs, axis=xaxis("bottom", labels=True)),
    y=alt.Y("v:Q", scale=ys5, axis=yleft(
        t_minor, "T", -47, H / 2,
        label_expr="datum.value == 10000 ? '1e+4' : datum.value == 100000 ? '1e+5' : datum.value == 1000000 ? '1e+6' : ''")),
)
ref5 = ref_layer(pd.DataFrame({"h": ref_h, "v": [100000, 100000], "lvl": [0, 0]}), ys5,
                 [10000, 100000, 1000000], "#b87474", 2, [9, 5])
p5 = alt.layer(t_line, ref5).properties(width=W, height=H)

chart = alt.vconcat(p1, p2, p3, p4, p5, spacing=11.5, bounds="flush").properties(
    padding={"left": 11, "top": -5, "right": 5, "bottom": 2},
    background="white",
).configure_view(stroke="black", strokeWidth=1).configure_axis(tickWidth=1, grid=False)

chart.save("out.html", embed_options={"renderer": "svg", "actions": False})
